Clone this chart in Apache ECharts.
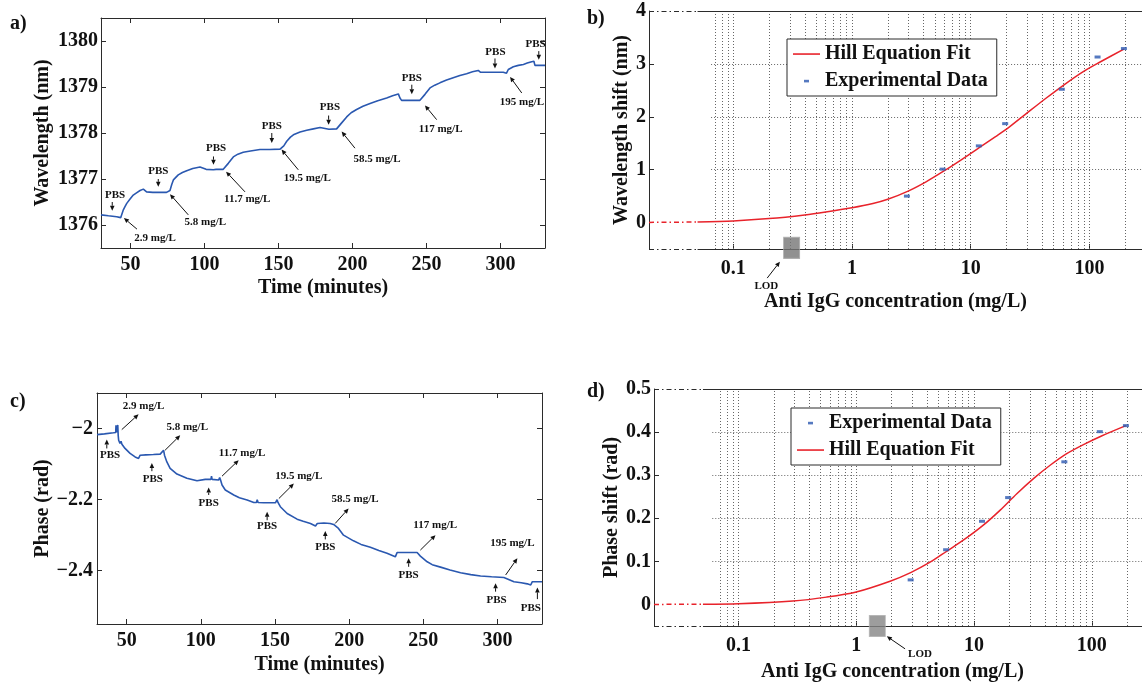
<!DOCTYPE html>
<html><head><meta charset="utf-8">
<script src="https://cdn.jsdelivr.net/npm/echarts@6/dist/echarts.min.js"></script>
<style>html,body{margin:0;padding:0;background:#fff}#c{width:1142px;height:683px}</style>
</head><body><div id="c"></div>
<script>
// ================= DATA =================
// Panel a: wavelength vs time
const timeA = [30,35,40.6,43.3,44.0,45.1,45.6,46.2,47.4,49.5,51.8,54,56.4,58.6,59.3,60.8,65,70,74.3,75.5,76.6,77.8,78.9,82.2,85,87.9,92,96.9,97.8,101,105.9,107,107.8,112.6,113.7,116,119.4,122.5,126.1,131,137.4,138.2,139,144,151,152,153.5,155.5,158,160,164.5,169,173.5,178,179,184,189.2,190.4,192.6,196,199,202.7,207,211.8,217,223,227,230.9,232,233.1,240,245.5,246.6,248.9,252.3,255.5,259,263.5,268,272.5,277,281,284.9,286.5,295,301.8,304,305.2,308.6,312,315.4,318,321,322.5,323.2,326,330];
const wavelengthA = [1376.22,1376.20,1376.18,1376.16,1376.20,1376.33,1376.30,1376.40,1376.47,1376.56,1376.65,1376.70,1376.75,1376.78,1376.74,1376.72,1376.71,1376.71,1376.71,1376.68,1376.75,1376.88,1376.98,1377.09,1377.14,1377.18,1377.23,1377.26,1377.22,1377.21,1377.20,1377.24,1377.21,1377.21,1377.19,1377.34,1377.48,1377.54,1377.58,1377.61,1377.64,1377.62,1377.64,1377.64,1377.65,1377.63,1377.72,1377.82,1377.91,1377.96,1378.02,1378.06,1378.09,1378.12,1378.08,1378.08,1378.09,1378.06,1378.22,1378.35,1378.44,1378.51,1378.58,1378.64,1378.70,1378.76,1378.81,1378.85,1378.76,1378.71,1378.71,1378.71,1378.69,1378.84,1378.98,1379.04,1379.09,1379.15,1379.20,1379.25,1379.29,1379.33,1379.36,1379.32,1379.32,1379.32,1379.30,1379.38,1379.44,1379.47,1379.49,1379.52,1379.55,1379.56,1379.47,1379.47,1379.47];
// Panel c: phase vs time
const timeC = [30,35,41.1,42.6,42.8,43.1,43.7,44.0,44.3,44.6,45.5,46.2,46.8,48.9,52.3,55.7,58.0,59.1,63,68,72.6,74.9,75.5,77.1,79.3,83.9,90.6,97.4,98,103,106.8,107.2,107.6,112,112.7,113.3,114.3,116.5,122.2,126,131.2,135.7,137.5,138.0,138.6,142.4,150.3,151.4,152,153.6,158.2,164.9,169,173.9,177.3,178.5,183,187.2,189.5,190.6,192.8,196.2,202.9,208,214.3,220,225.5,231.1,232.3,240,245.8,248,252.6,256,261.6,268,275.1,282,288.6,296,304.3,305.5,311.1,316,320.1,322.4,323.5,330];
const phaseC = [-2.017,-2.015,-2.012,-2.011,-1.991,-2.011,-2.011,-1.990,-2.020,-2.033,-2.042,-2.036,-2.044,-2.056,-2.070,-2.080,-2.084,-2.075,-2.074,-2.073,-2.072,-2.061,-2.075,-2.094,-2.112,-2.128,-2.140,-2.147,-2.143,-2.143,-2.143,-2.134,-2.143,-2.145,-2.138,-2.145,-2.159,-2.173,-2.187,-2.195,-2.201,-2.208,-2.208,-2.200,-2.208,-2.209,-2.209,-2.200,-2.208,-2.220,-2.239,-2.255,-2.261,-2.267,-2.274,-2.267,-2.266,-2.267,-2.270,-2.266,-2.281,-2.300,-2.316,-2.326,-2.334,-2.343,-2.351,-2.361,-2.349,-2.349,-2.349,-2.359,-2.375,-2.383,-2.390,-2.398,-2.406,-2.411,-2.415,-2.417,-2.419,-2.424,-2.431,-2.434,-2.437,-2.440,-2.431,-2.431];
// Panels b, d: experimental data
const concentration = [2.9, 5.8, 11.7, 19.5, 58.5, 117, 195];
const wavelengthShift = [0.50, 1.01, 1.45, 1.87, 2.52, 3.13, 3.29];
const phaseShift = [0.057, 0.127, 0.193, 0.248, 0.331, 0.401, 0.415];
// Hill fit curves
const fitConcB = [0.05,0.1,0.2,0.4,0.6,1.0,1.5,2.0,3.0,4.2,6.0,8.5,11.7,16.3,21.2,29,43,61.5,88,124,195];
const fitShiftB = [0.01,0.03,0.075,0.145,0.20,0.28,0.36,0.44,0.60,0.77,0.98,1.20,1.41,1.63,1.81,2.05,2.35,2.61,2.85,3.04,3.28];
const fitLeadConcB = [0.0195, 0.05];
const fitLeadShiftB = [0.003, 0.01];
const fitConcD = [0.05,0.1,0.29,0.56,1.0,1.94,2.9,4.24,5.9,8.4,12,16.7,23.1,32,44.3,61.3,85,121,195];
const fitShiftD = [0.0005,0.0016,0.008,0.017,0.029,0.054,0.074,0.098,0.124,0.152,0.184,0.219,0.257,0.292,0.323,0.350,0.371,0.391,0.415];
const fitLeadConcD = [0.0192, 0.05];
const fitLeadShiftD = [0.0001, 0.0005];
// limits of detection
const lodB = [0.31, -0.48];
const lodD = [1.51, -0.05];
// axis ranges / ticks
const timeRange = [30, 330];
const timeTicks = [50, 100, 150, 200, 250, 300];
const wavelengthRange = [1375.5, 1380.5];
const wavelengthTicks = [1376, 1377, 1378, 1379, 1380];
const phaseRange = [-2.55, -1.9];
const phaseTicks = [-2.4, -2.2, -2];
const concRangeB = [0.0195, 277];
const concRangeD = [0.0192, 267];
const dashEnd = 0.05;
const shiftRangeB = [-0.5, 4];
const shiftTicksB = [0, 1, 2, 3, 4];
const shiftRangeD = [-0.05, 0.5];
const shiftTicksD = [0, 0.1, 0.2, 0.3, 0.4, 0.5];
const hGridB = [1, 2, 3];
const hGridD = [0.1, 0.2, 0.3, 0.4];
const hGridStartB = 0.065, hGridStartD = 0.06;
const vGridLog = [0.07,0.08,0.09,0.1,0.2,0.3,0.4,0.5,0.6,0.7,0.8,0.9,1,2,3,4,5,6,7,8,9,10,20,30,40,50,60,70,80,90,100,200];
// annotations: [text, textX, textY, arrowFromX, arrowFromY, arrowTipX, arrowTipY]
const annotA = [
  ['PBS', 39.5, 1376.65, 37.6, 1376.50, 37.6, 1376.31],
  ['2.9 mg/L', 66.5, 1375.72, 54.3, 1375.91, 45.5, 1376.15],
  ['PBS', 68.7, 1377.16, 68.7, 1377.00, 68.7, 1376.83],
  ['5.8 mg/L', 100.5, 1376.06, 89, 1376.22, 76.6, 1376.67],
  ['PBS', 107.7, 1377.67, 106, 1377.49, 106, 1377.31],
  ['11.7 mg/L', 128.8, 1376.56, 127.3, 1376.72, 114.5, 1377.16],
  ['PBS', 145.4, 1378.15, 145.4, 1378.00, 145.4, 1377.78],
  ['19.5 mg/L', 169.4, 1377.02, 163.3, 1377.20, 152, 1377.64],
  ['PBS', 184.7, 1378.57, 183.8, 1378.38, 183.8, 1378.18],
  ['58.5 mg/L', 216.5, 1377.44, 201.6, 1377.67, 192.6, 1378.03],
  ['PBS', 240, 1379.20, 240, 1379.05, 240, 1378.84],
  ['117 mg/L', 259.5, 1378.08, 256.8, 1378.29, 248.9, 1378.60],
  ['PBS', 296.5, 1379.76, 296.2, 1379.62, 296.2, 1379.40],
  ['195 mg/L', 314.4, 1378.68, 314.3, 1378.87, 306.4, 1379.22],
  ['PBS', 323.6, 1379.94, 325.8, 1379.78, 325.8, 1379.59]
];
const annotC = [
  ['PBS', 38.8, -2.075, 36.6, -2.056, 36.6, -2.031],
  ['2.9 mg/L', 61.4, -1.937, 46.7, -2.003, 58, -1.960],
  ['5.8 mg/L', 90.8, -1.997, 75.9, -2.061, 86.1, -2.019],
  ['PBS', 67.6, -2.143, 67, -2.120, 67, -2.097],
  ['11.7 mg/L', 127.8, -2.070, 114.3, -2.134, 125.5, -2.089],
  ['PBS', 105.3, -2.211, 105.3, -2.187, 105.3, -2.166],
  ['19.5 mg/L', 166, -2.134, 152.6, -2.197, 162.7, -2.155],
  ['PBS', 144.7, -2.276, 144.7, -2.258, 144.7, -2.234],
  ['58.5 mg/L', 204, -2.199, 190.6, -2.267, 199.6, -2.225],
  ['PBS', 183.9, -2.334, 183.9, -2.312, 183.9, -2.288],
  ['117 mg/L', 258, -2.272, 248, -2.342, 258.2, -2.300],
  ['PBS', 240.1, -2.412, 240.1, -2.389, 240.1, -2.365],
  ['195 mg/L', 310, -2.323, 305.5, -2.412, 313.4, -2.365],
  ['PBS', 299.4, -2.482, 298.7, -2.459, 298.7, -2.435],
  ['PBS', 322.5, -2.505, 326.9, -2.480, 326.9, -2.447]
];
const annotB = [['LOD', 0.19, -1.2, 0.193, -1.05, 0.247, -0.74]];
const annotD = [['LOD', 3.48, -0.116, 2.6, -0.103, 1.82, -0.074]];

// ================= STYLE =================
const FF = '"Liberation Serif","Times New Roman",serif';
const AX = '#2b2b2b', TXT = '#111', BLUE = '#2a58b0', RED = '#e8232b';
const tickFont = {fontFamily: FF, fontSize: 20, fontWeight: 'bold', color: TXT};
const nameFont = {fontFamily: FF, fontSize: 20, fontWeight: 'bold', color: TXT};
const axLine = {show: true, onZero: false, lineStyle: {color: AX, width: 1}};
const pairs = (xs, ys) => xs.map((x, i) => [x, ys[i]]);
const plain = v => String(Math.round(v * 1000) / 1000);
const minus = v => (v < 0 ? '\u2212' : '') + String(Math.abs(Math.round(v * 100) / 100));
const logFmt = v => v < 1 ? String(Math.round(v * 10) / 10) : String(Math.round(v));

function linAxisX(grid, range, ticks, extra) {
  return Object.assign({
    type: 'value', gridIndex: grid, min: range[0], max: range[1],
    axisLine: axLine,
    axisTick: {show: true, inside: true, length: 5, customValues: ticks, lineStyle: {color: AX}},
    axisLabel: Object.assign({show: true, customValues: ticks, margin: 7, formatter: plain}, tickFont),
    splitLine: {show: false}, nameMoveOverlap: false
  }, extra || {});
}
function linAxisY(grid, range, ticks, extra) {
  return Object.assign({
    type: 'value', gridIndex: grid, min: range[0], max: range[1],
    axisLine: axLine,
    axisTick: {show: true, inside: true, length: 5, customValues: ticks, lineStyle: {color: AX}},
    axisLabel: Object.assign({show: true, customValues: ticks, margin: 3, formatter: plain}, tickFont),
    splitLine: {show: false}, nameMoveOverlap: false
  }, extra || {});
}
function logAxisX(grid, range, extra) {
  return Object.assign({
    type: 'log', logBase: 10, gridIndex: grid, min: range[0], max: range[1],
    axisLine: {show: false, onZero: false},
    axisTick: {show: true, inside: true, length: 5, lineStyle: {color: AX}},
    axisLabel: Object.assign({show: true, margin: 10, showMinLabel: false, showMaxLabel: false, formatter: logFmt}, tickFont),
    splitLine: {show: false}, minorTick: {show: false}, nameMoveOverlap: false,
    name: 'Anti IgG concentration (mg/L)', nameLocation: 'middle', nameTextStyle: nameFont
  }, extra || {});
}
function gridMarks(range, yRange, hLines, hStart) {
  const dot = {type: [1, 2], color: '#666', width: 1};
  const dashDot = {type: [5, 3, 1.5, 3], color: AX, width: 1};
  const solid = {type: 'solid', color: AX, width: 1};
  const d = [];
  vGridLog.forEach(x => d.push([{coord: [x, yRange[0]], lineStyle: dot}, {coord: [x, yRange[1]]}]));
  hLines.forEach(y => d.push([{coord: [hStart, y], lineStyle: dot}, {coord: [range[1], y]}]));
  yRange.forEach(y => {
    d.push([{coord: [range[0], y], lineStyle: dashDot}, {coord: [dashEnd, y]}]);
    d.push([{coord: [dashEnd, y], lineStyle: solid}, {coord: [range[1], y]}]);
  });
  return {silent: true, z: 1, symbol: ['none', 'none'], label: {show: false}, emphasis: {disabled: true}, animation: false, data: d};
}
const dotIcon = 'path://M0,0M27,14M11,5.8h5v2.6h-5z';
const lineIcon = 'path://M0,0M27,14M0,6.25h27v1.6h-27z';
function legendAt(left, top, order) {
  return {
    left: left, top: top, orient: 'vertical', selectedMode: false,
    data: order.map(n => ({name: n, icon: n === 'Experimental Data' ? dotIcon : lineIcon})),
    itemWidth: 27, itemHeight: 14, itemGap: 7, padding: [5, 9, 5, 6],
    borderColor: AX, borderWidth: 1, backgroundColor: '#fff', borderRadius: 0,
    textStyle: {fontFamily: FF, fontSize: 20, fontWeight: 'bold', color: TXT}
  };
}
const panelTitle = (t, l, tp) => ({text: t, left: l, top: tp, padding: 0, textStyle: {fontFamily: FF, fontSize: 20, fontWeight: 'bold', color: TXT}});

const option = {
  animation: false,
  backgroundColor: '#fff',
  title: [panelTitle('a)', 10, 14), panelTitle('b)', 587, 9), panelTitle('c)', 10, 392), panelTitle('d)', 587, 382)],
  legend: [
    legendAt(787, 39, ['Hill Equation Fit', 'Experimental Data']),
    legendAt(791, 408, ['Experimental Data', 'Hill Equation Fit'])
  ],
  grid: [
    {left: 101, top: 18, width: 444, height: 230, containLabel: false, outerBoundsMode: 'none'},
    {left: 649, top: 11, right: 0, height: 238, containLabel: false, outerBoundsMode: 'none'},
    {left: 97, top: 393, width: 445, height: 231, containLabel: false, outerBoundsMode: 'none'},
    {left: 654, top: 389, right: 0, height: 237, containLabel: false, outerBoundsMode: 'none'}
  ],
  xAxis: [
    linAxisX(0, timeRange, timeTicks, {name: 'Time (minutes)', nameLocation: 'middle', nameGap: 30, nameTextStyle: nameFont}),
    linAxisX(0, timeRange, timeTicks, {position: 'top', axisLabel: {show: false}}),
    logAxisX(1, concRangeB, {nameGap: 43}),
    linAxisX(2, timeRange, timeTicks, {name: 'Time (minutes)', nameLocation: 'middle', nameGap: 31, nameTextStyle: nameFont}),
    linAxisX(2, timeRange, timeTicks, {position: 'top', axisLabel: {show: false}}),
    logAxisX(3, concRangeD, {nameGap: 36, nameTextStyle: Object.assign({padding: [0, 11, 0, 0]}, nameFont)})
  ],
  yAxis: [
    linAxisY(0, wavelengthRange, wavelengthTicks, {name: 'Wavelength (nm)', nameLocation: 'middle', nameGap: 48, nameTextStyle: nameFont}),
    linAxisY(0, wavelengthRange, wavelengthTicks, {position: 'right', axisLabel: {show: false}}),
    linAxisY(1, shiftRangeB, shiftTicksB, {name: 'Wavelength shift (nm)', nameLocation: 'middle', nameGap: 17, nameTextStyle: nameFont}),
    linAxisY(2, phaseRange, phaseTicks, {name: 'Phase (rad)', nameLocation: 'middle', nameGap: 44, nameTextStyle: nameFont,
      axisLabel: Object.assign({show: true, customValues: phaseTicks, margin: 4, formatter: minus}, tickFont)}),
    linAxisY(2, phaseRange, phaseTicks, {position: 'right', axisLabel: {show: false}}),
    linAxisY(3, shiftRangeD, shiftTicksD, {name: 'Phase shift (rad)', nameLocation: 'middle', nameGap: 32, nameTextStyle: nameFont,
      axisLabel: Object.assign({show: true, customValues: shiftTicksD, margin: 3, formatter: v => v === 0 ? '0' : v.toFixed(1)}, tickFont)})
  ],
  series: [
    // 0 panel a trace
    {type: 'line', name: 'Wavelength', xAxisIndex: 0, yAxisIndex: 0, data: pairs(timeA, wavelengthA), symbol: 'none',
      lineStyle: {color: BLUE, width: 1.6}, itemStyle: {color: BLUE}, z: 3},
    // 1 panel b fit lead (dash-dot) + grid
    {type: 'line', name: 'fitLeadB', xAxisIndex: 2, yAxisIndex: 2, data: pairs(fitLeadConcB, fitLeadShiftB), symbol: 'none', clip: false,
      lineStyle: {color: RED, width: 1.5, type: [5, 3, 1.5, 3]}, itemStyle: {color: RED}, z: 3,
      markLine: gridMarks(concRangeB, shiftRangeB, hGridB, hGridStartB)},
    // 2 panel b fit
    {type: 'line', name: 'Hill Equation Fit', xAxisIndex: 2, yAxisIndex: 2, data: pairs(fitConcB, fitShiftB), symbol: 'none', showSymbol: false,
      smooth: 0.3, lineStyle: {color: RED, width: 1.5}, itemStyle: {color: RED}, z: 3},
    // 3 panel b data
    {type: 'scatter', name: 'Experimental Data', xAxisIndex: 2, yAxisIndex: 2, data: pairs(concentration, wavelengthShift),
      symbol: 'rect', symbolSize: [6, 3], itemStyle: {color: BLUE}, z: 4},
    // 4 panel b LOD
    {type: 'scatter', name: 'LOD_B', xAxisIndex: 2, yAxisIndex: 2, data: [lodB], clip: false, symbol: 'rect', symbolSize: [16, 21],
      itemStyle: {color: '#767676', borderColor: '#a8a8a8', borderWidth: 1}, z: 4},
    // 5 panel c trace
    {type: 'line', name: 'Phase', xAxisIndex: 3, yAxisIndex: 3, data: pairs(timeC, phaseC), symbol: 'none',
      lineStyle: {color: BLUE, width: 1.6}, itemStyle: {color: BLUE}, z: 3},
    // 6 panel d fit lead + grid
    {type: 'line', name: 'fitLeadD', xAxisIndex: 5, yAxisIndex: 5, data: pairs(fitLeadConcD, fitLeadShiftD), symbol: 'none', clip: false,
      lineStyle: {color: RED, width: 1.5, type: [5, 3, 1.5, 3]}, itemStyle: {color: RED}, z: 3,
      markLine: gridMarks(concRangeD, shiftRangeD, hGridD, hGridStartD)},
    // 7 panel d fit
    {type: 'line', name: 'Hill Equation Fit', xAxisIndex: 5, yAxisIndex: 5, data: pairs(fitConcD, fitShiftD), symbol: 'none', showSymbol: false,
      smooth: 0.3, lineStyle: {color: RED, width: 1.5}, itemStyle: {color: RED}, z: 3},
    // 8 panel d data
    {type: 'scatter', name: 'Experimental Data', xAxisIndex: 5, yAxisIndex: 5, data: pairs(concentration, phaseShift),
      symbol: 'rect', symbolSize: [6, 3], itemStyle: {color: BLUE}, z: 4},
    // 9 panel d LOD
    {type: 'scatter', name: 'LOD_D', xAxisIndex: 5, yAxisIndex: 5, data: [lodD], clip: false, symbol: 'rect', symbolSize: [16, 21],
      itemStyle: {color: '#858585', borderColor: '#b0b0b0', borderWidth: 1}, z: 4}
  ]
};

const chart = echarts.init(document.getElementById('c'), null, {renderer: 'canvas', width: 1142, height: 683});
chart.setOption(option);

// annotations positioned through the series' coordinate systems
function annotate(seriesIndex, list, fontSize, out) {
  list.forEach(([label, tx, ty, fx, fy, hx, hy]) => {
    const p = chart.convertToPixel({seriesIndex: seriesIndex}, [tx, ty]);
    const a = chart.convertToPixel({seriesIndex: seriesIndex}, [fx, fy]);
    const b = chart.convertToPixel({seriesIndex: seriesIndex}, [hx, hy]);
    out.push({type: 'text', x: p[0], y: p[1], z: 100,
      style: {text: label, font: 'bold ' + fontSize + 'px ' + FF, fill: TXT,
        align: 'center', verticalAlign: 'middle', textAlign: 'center', textVerticalAlign: 'middle'}});
    const dx = b[0] - a[0], dy = b[1] - a[1], L = Math.hypot(dx, dy) || 1;
    const ux = dx / L, uy = dy / L, hl = 5, hw = 2.3;
    const bx = b[0] - ux * hl, by = b[1] - uy * hl;
    out.push({type: 'line', z: 100, shape: {x1: a[0], y1: a[1], x2: bx, y2: by}, style: {stroke: TXT, lineWidth: 1}});
    out.push({type: 'polygon', z: 100, shape: {points: [[b[0], b[1]], [bx - uy * hw, by + ux * hw], [bx + uy * hw, by - ux * hw]]},
      style: {fill: TXT}});
  });
}
const g = [];
annotate(0, annotA, 11, g);
annotate(5, annotC, 11, g);
annotate(2, annotB, 11, g);
annotate(7, annotD, 11, g);
chart.setOption({graphic: {elements: g}});
</script>
</body></html>
